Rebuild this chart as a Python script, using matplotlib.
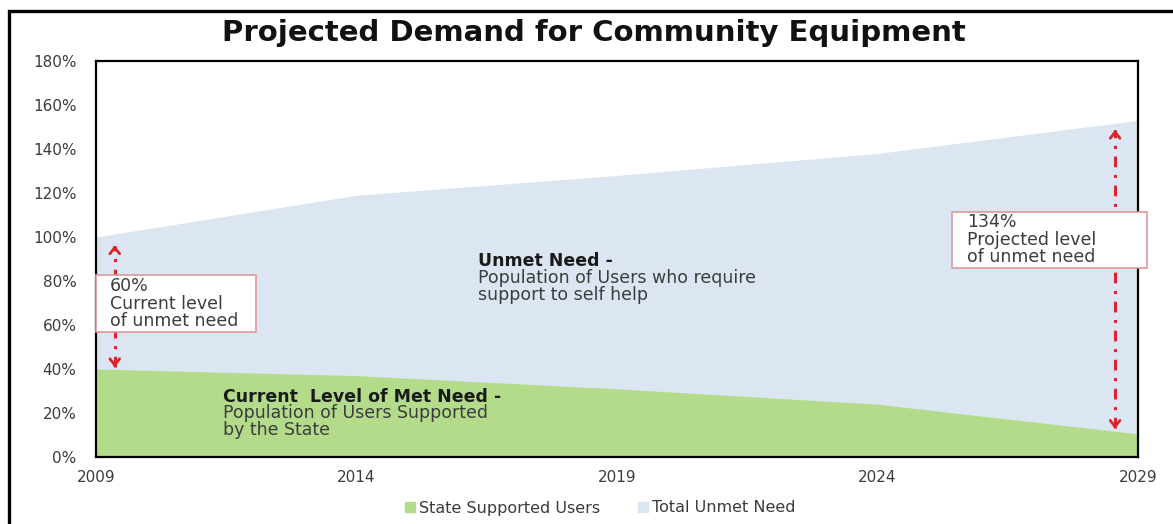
import matplotlib.pyplot as plt
from matplotlib.patches import Rectangle, Patch

# Chart data (percent of current demand).
years = [2009, 2014, 2019, 2024, 2029]
state_supported = [40, 37, 31, 24, 10.5]
total_need = [100, 119, 128, 138, 153]
y_ticks = [0, 20, 40, 60, 80, 100, 120, 140, 160, 180]
x_ticks = [2009, 2014, 2019, 2024, 2029]

green = '#b3dc8a'
blue = '#dce6f2'
red = '#d7262e'
box_edge = '#dc9a9a'
grey = '#3c3c3c'

plt.rcParams['font.family'] = ['DejaVu Sans']

fig = plt.figure(figsize=(11.73, 5.24), dpi=100)
W, H = 1173, 524
ax = fig.add_axes([96 / W, 1 - 457 / H, (1138 - 96) / W, (457 - 61) / H])

# Stacked areas: met need at the bottom, unmet need above it.
ax.fill_between(years, 0, total_need, color=blue, lw=0)
ax.fill_between(years, 0, state_supported, color=green, lw=0)

ax.set_xlim(years[0], years[-1])
ax.set_ylim(0, 180)
ax.set_xticks(x_ticks)
ax.set_yticks(y_ticks)
ax.set_yticklabels([f'{t}%' for t in y_ticks])
ax.tick_params(axis='both', length=0, labelsize=11, labelcolor=grey)
ax.tick_params(axis='y', pad=14)
ax.tick_params(axis='x', pad=9)
for s in ax.spines.values():
    s.set_linewidth(1.6)
    s.set_color('black')

fig.text(594 / W, 1 - 33 / H, 'Projected Demand for Community Equipment',
         ha='center', va='center', fontsize=21, fontweight='bold', color='#111111')

# Outer frame of the picture (runs off the right and bottom edge).
fig.patches.append(Rectangle((9 / W, -0.05), 1.1, 1 - 11 / H + 0.05,
                             transform=fig.transFigure, fill=False,
                             lw=2.4, ec='black', clip_on=False))


def double_arrow(x, y0, y1):
    # dash-dot shaft with open chevron heads at both ends
    ax.plot([x, x], [y0 + 1.5, y1 - 1.5], color=red, lw=2.2,
            ls=(0, (3.5, 2.5, 1, 2.5)), solid_capstyle='butt')
    head = dict(arrowstyle='->,head_length=0.45,head_width=0.35',
                color=red, lw=2)
    ax.annotate('', xy=(x, y1), xytext=(x, y1 - 4), arrowprops=head)
    ax.annotate('', xy=(x, y0), xytext=(x, y0 + 4), arrowprops=head)


double_arrow(2009.36, state_supported[0] - 0.5, total_need[0] - 2.5)
double_arrow(2028.56, state_supported[-1] + 1, total_need[-1] - 3)

# Call-out boxes (text y is the baseline of the last line)
ax.add_patch(Rectangle((2009.0, 56.8), 3.07, 25.9, fc='white', ec=box_edge,
                       lw=1.2, clip_on=False, zorder=3))
ax.text(2009.27, 59.6, '60%\nCurrent level\nof unmet need', fontsize=12.5,
        color=grey, va='baseline', linespacing=0.95, zorder=4)

ax.add_patch(Rectangle((2025.43, 85.9), 3.74, 25.5, fc='white', ec=box_edge,
                       lw=1.2, clip_on=False, zorder=3))
ax.text(2025.72, 88.6, '134%\nProjected level\nof unmet need', fontsize=12.5,
        color=grey, va='baseline', linespacing=0.95, zorder=4)

# Area labels
ax.text(2016.33, 86.8, 'Unmet Need -', fontsize=12.5, fontweight='bold',
        color='#1a1a1a', va='baseline')
ax.text(2016.33, 71.4, 'Population of Users who require\nsupport to self help',
        fontsize=12.5, color=grey, va='baseline', linespacing=0.95)

ax.text(2011.44, 25.0, 'Current  Level of Met Need -', fontsize=12.5,
        fontweight='bold', color='#1a1a1a', va='baseline')
ax.text(2011.44, 10.0, 'Population of Users Supported\nby the State',
        fontsize=12.5, color=grey, va='baseline', linespacing=0.95)

handles = [Patch(color=green, label='State Supported Users'),
           Patch(color=blue, label='Total Unmet Need')]
leg = fig.legend(handles=handles, loc='center', ncol=2, frameon=False,
                 bbox_to_anchor=(600 / W, 1 - 508 / H), fontsize=11.5,
                 handlelength=0.6, handleheight=0.6, handletextpad=0.25,
                 columnspacing=2.4)
for t in leg.get_texts():
    t.set_color(grey)

fig.savefig('out.png', dpi=100)
